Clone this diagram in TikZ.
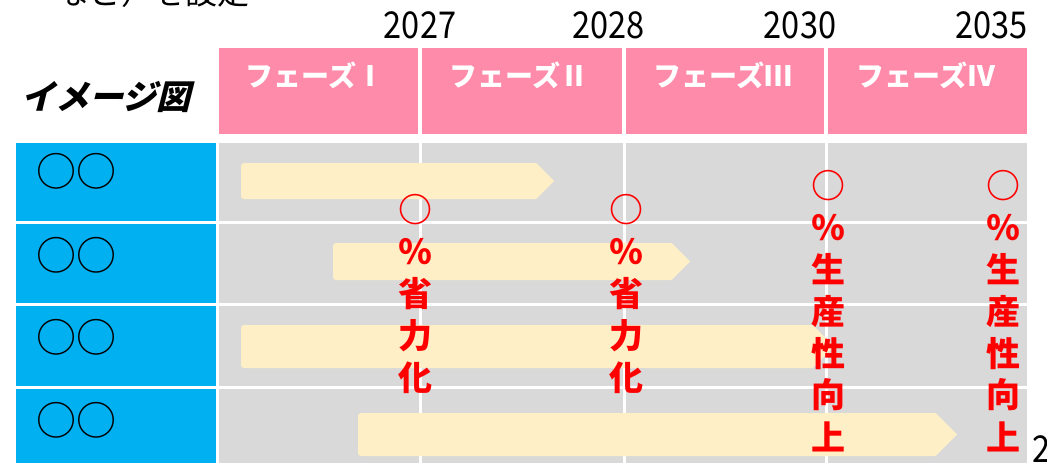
\documentclass[tikz,border=0pt]{standalone}
\usepackage{fontspec}
\newfontfamily\jp{Noto Sans CJK JP}
\newfontfamily\jpsl[FakeSlant=0.25]{Noto Sans CJK JP}
\newfontfamily\jpnum[FakeStretch=0.88]{Noto Sans CJK JP}
\definecolor{cblue}{HTML}{00B0F0}
\definecolor{cpink}{HTML}{FF8BAA}
\definecolor{cgray}{HTML}{D9D9D9}
\definecolor{cyel}{HTML}{FFEFC6}
\definecolor{cred}{HTML}{FF0000}
\tikzset{
  box/.style={inner sep=0, outer sep=0, anchor=north west, draw=none},
  bluecell/.style={box, fill=cblue},
  pinkcell/.style={box, fill=cpink},
  graycell/.style={box, fill=cgray},
  phaselbl/.style={inner sep=0, text=white, font=\jp\bfseries\fontsize{28}{32}\selectfont},
  yearlbl/.style={inner sep=0, font=\jpnum\fontsize{37}{40}\selectfont},
  itemlbl/.style={inner sep=0, font=\jp\fontsize{40}{44}\selectfont},
  redch/.style={inner sep=0, text=cred, font=\jp\bfseries\fontsize{34}{36}\selectfont},
}
\begin{document}
\begin{tikzpicture}[x=1pt,y=-1pt]
\useasboundingbox (0,0) rectangle (1047,463);
% cut-off caption at top
\node[inner sep=0, anchor=base west, font=\jp\fontsize{32}{36}\selectfont] (cap) at (57,5) {など）を設定};
% title
\node[inner sep=0, font=\jpsl\bfseries\fontsize{34}{38}\selectfont] (title) at (106,97) {イメージ図};
% years
\node[yearlbl] (y1) at (420,25) {2027};
\node[yearlbl] (y2) at (608.5,25) {2028};
\node[yearlbl] (y3) at (800,25) {2030};
\node[yearlbl] (y4) at (991.5,25) {2035};
% header
\node[pinkcell, minimum width=199, minimum height=86] (p1) at (219,48) {};
\node[pinkcell, minimum width=200, minimum height=86] (p2) at (422,48) {};
\node[pinkcell, minimum width=198, minimum height=86] (p3) at (626,48) {};
\node[pinkcell, minimum width=199, minimum height=86] (p4) at (828,48) {};
\node[phaselbl] (ph1) at (315,75) {フェーズⅠ};
\node[phaselbl] (ph2) at (519,75) {フェーズⅡ};
\node[phaselbl] (ph3) at (723,75) {フェーズⅢ};
\node[phaselbl] (ph4) at (926,75) {フェーズⅣ};
% rows
\foreach \i/\top/\h in {1/143/78, 2/224/79, 3/306/80, 4/389/80}{
  \node[bluecell, minimum width=200, minimum height=\h] (b\i) at (16,\top) {};
  \node[graycell, minimum width=808, minimum height=\h] (g\i) at (219,\top) {};
}
\foreach \x in {420,624,826}{
  \fill[white] (\x-1.5,143) rectangle (\x+1.5,463);
}
\node[itemlbl] (t1) at (76,171.5) {○○};
\node[itemlbl] (t2) at (76,255) {○○};
\node[itemlbl] (t3) at (76,337) {○○};
\node[itemlbl] (t4) at (76,420) {○○};
% bars
\foreach \xa/\ya/\xb/\yb in {241/163/554/199, 333/243/690/280, 241/325/834/368, 358/413/957/456}{
  \pgfmathsetmacro\hh{(\yb-\ya)/2}
  \fill[cyel] (\xa,\ya) [rounded corners=3pt] -- (\xa,\yb) [sharp corners] -- (\xb-\hh,\yb) -- (\xb,\ya+\hh) -- (\xb-\hh,\ya) [rounded corners=3pt] -- cycle;
}
% red annotations
\foreach \c [count=\i from 0] in {○,％,省,力,化}{
  \node[redch] (ra\i) at (415,210+42*\i) {\c};
  \node[redch] (rb\i) at (626,210+42*\i) {\c};
}
\foreach \c [count=\i from 0] in {○,％,生,産,性,向,上}{
  \node[redch] (rc\i) at (828,186+41.8*\i) {\c};
  \node[redch] (rd\i) at (1003,186+41.8*\i) {\c};
}
% page number (cut off)
\node[yearlbl, anchor=west] (pg) at (1032,449) {2};
\end{tikzpicture}
\end{document}
